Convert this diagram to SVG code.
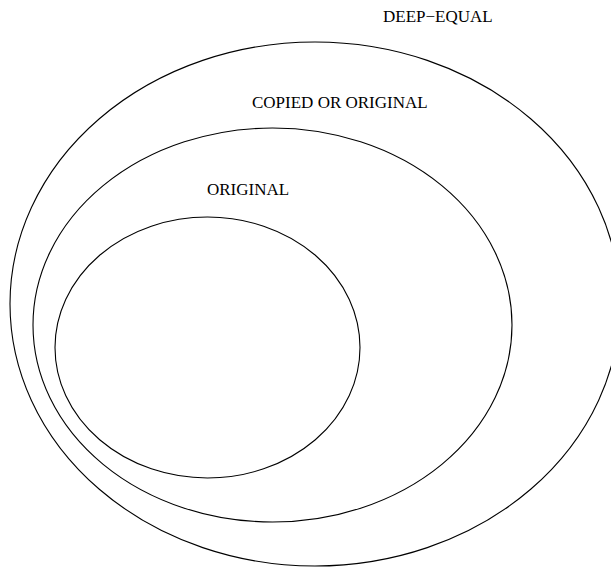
<svg xmlns="http://www.w3.org/2000/svg" width="611" height="568" viewBox="0 0 611 568">
<style>
.set{fill:none;stroke:#000;stroke-width:1.1}
.lbl{font-family:"Liberation Serif","Times New Roman",serif;font-size:17px;fill:#000}
</style>
<rect width="611" height="568" fill="#fff"/>
<g id="deep-equal">
<ellipse class="set" cx="315" cy="304" rx="305" ry="262"/>
<text class="lbl" x="383" y="22">DEEP−EQUAL</text>
</g>
<g id="copied-or-original">
<ellipse class="set" cx="272.5" cy="325" rx="239.5" ry="197"/>
<text class="lbl" x="252" y="108">COPIED OR ORIGINAL</text>
</g>
<g id="original">
<ellipse class="set" cx="207.5" cy="347.5" rx="152.5" ry="130.5"/>
<text class="lbl" x="207" y="195">ORIGINAL</text>
</g>
<g id="connectors"></g>
</svg>
